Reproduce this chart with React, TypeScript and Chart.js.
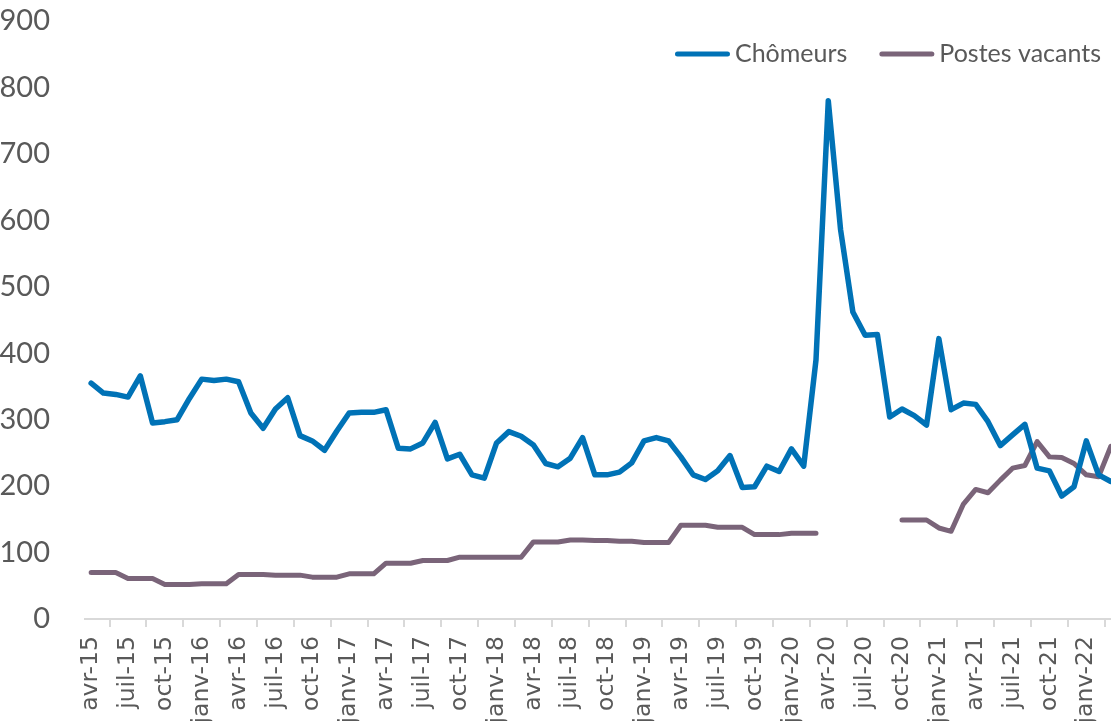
import React, { useEffect, useRef } from "react";
import { Chart, registerables } from "chart.js";

Chart.register(...registerables);

// Monthly categories, avr-15 .. mars-22
const months: string[] = [
  "avr-15", "mai-15", "juin-15", "juil-15", "août-15", "sept-15", "oct-15", "nov-15", "déc-15", "janv-16", "févr-16", "mars-16",
  "avr-16", "mai-16", "juin-16", "juil-16", "août-16", "sept-16", "oct-16", "nov-16", "déc-16", "janv-17", "févr-17", "mars-17",
  "avr-17", "mai-17", "juin-17", "juil-17", "août-17", "sept-17", "oct-17", "nov-17", "déc-17", "janv-18", "févr-18", "mars-18",
  "avr-18", "mai-18", "juin-18", "juil-18", "août-18", "sept-18", "oct-18", "nov-18", "déc-18", "janv-19", "févr-19", "mars-19",
  "avr-19", "mai-19", "juin-19", "juil-19", "août-19", "sept-19", "oct-19", "nov-19", "déc-19", "janv-20", "févr-20", "mars-20",
  "avr-20", "mai-20", "juin-20", "juil-20", "août-20", "sept-20", "oct-20", "nov-20", "déc-20", "janv-21", "févr-21", "mars-21",
  "avr-21", "mai-21", "juin-21", "juil-21", "août-21", "sept-21", "oct-21", "nov-21", "déc-21", "janv-22", "févr-22", "mars-22",
];

const chomeurs: number[] = [
  355, 340, 338, 334, 366, 295, 297, 300, 332, 361, 359, 361,
  357, 310, 287, 316, 333, 276, 268, 254, 283, 310, 311, 311,
  315, 257, 256, 265, 296, 241, 248, 217, 212, 265, 282, 275,
  262, 234, 229, 242, 273, 217, 217, 221, 235, 268, 273, 268,
  244, 217, 210, 223, 246, 198, 199, 230, 222, 256, 230, 390,
  780, 586, 462, 427, 428, 304, 316, 306, 292, 422, 315, 325,
  323, 297, 261, 277, 293, 227, 223, 185, 199, 268, 217, 207,
];

const postesVacants: (number | null)[] = [
  70, 70, 70, 61, 61, 61, 52, 52, 52, 53, 53, 53,
  67, 67, 67, 66, 66, 66, 63, 63, 63, 68, 68, 68,
  84, 84, 84, 88, 88, 88, 93, 93, 93, 93, 93, 93,
  116, 116, 116, 119, 119, 118, 118, 117, 117, 115, 115, 115,
  141, 141, 141, 138, 138, 138, 127, 127, 127, 129, 129, 129,
  null, null, null, null, null, null, 149, 149, 149, 137, 132, 173,
  195, 190, 209, 227, 231, 267, 244, 243, 234, 217, 214, 260,
];

const seriesNames = ["Chômeurs", "Postes vacants"];
const seriesColors = ["#0072b6", "#7a6479"];

const TEXT = "#595959";
const AXIS = "#d9d9d9";

// Legend drawn in the top-right corner inside the plot area
const cornerLegend = {
  id: "cornerLegend",
  afterDraw(chart: any) {
    const { ctx, chartArea } = chart;
    const lineLen = 55;
    const gapText = 5;
    const gapItem = 32;
    ctx.save();
    ctx.font = "25px Lato";
    ctx.textBaseline = "middle";
    const items = chart.data.datasets.map((ds: any) => ({
      label: ds.label,
      color: ds.borderColor,
      w: ctx.measureText(ds.label).width,
    }));
    const total =
      items.reduce((s: number, it: any) => s + lineLen + gapText + it.w, 0) +
      gapItem * (items.length - 1);
    let x = chartArea.right - 16 - total;
    const y = chartArea.top + 33;
    for (const it of items) {
      ctx.strokeStyle = it.color;
      ctx.lineWidth = 5;
      ctx.lineCap = "round";
      ctx.beginPath();
      ctx.moveTo(x + 2.5, y);
      ctx.lineTo(x + lineLen - 2.5, y);
      ctx.stroke();
      x += lineLen + gapText;
      ctx.fillStyle = TEXT;
      ctx.fillText(it.label, x, y);
      x += it.w + gapItem;
    }
    ctx.restore();
  },
};

export default function App() {
  const canvasRef = useRef<HTMLCanvasElement | null>(null);

  useEffect(() => {
    if (!canvasRef.current) return;
    const chart = new Chart(canvasRef.current, {
      type: "line",
      data: {
        labels: months,
        datasets: [
          {
            label: seriesNames[0],
            data: chomeurs,
            borderColor: seriesColors[0],
            backgroundColor: seriesColors[0],
            borderWidth: 5.5,
            pointRadius: 0,
            tension: 0,
            borderJoinStyle: "round",
            borderCapStyle: "round",
          },
          {
            label: seriesNames[1],
            data: postesVacants,
            borderColor: seriesColors[1],
            backgroundColor: seriesColors[1],
            borderWidth: 5,
            pointRadius: 0,
            tension: 0,
            spanGaps: false,
            borderJoinStyle: "round",
            borderCapStyle: "round",
          },
        ],
      },
      options: {
        animation: false,
        responsive: true,
        maintainAspectRatio: false,
        layout: { padding: { top: 21, right: 0, left: 0, bottom: 0 } },
        plugins: {
          legend: { display: false },
          tooltip: { enabled: false },
        },
        scales: {
          x: {
            offset: true,
            afterFit: (scale: any) => {
              scale.height = 102;
              scale.paddingLeft = 0;
              scale.paddingRight = 0;
            },
            grid: {
              display: true,
              offset: true,
              drawOnChartArea: false,
              drawTicks: true,
              tickLength: 8,
              color: AXIS,
              lineWidth: 2,
            },
            border: { display: true, color: AXIS, width: 2 },
            ticks: {
              autoSkip: false,
              maxRotation: 90,
              minRotation: 90,
              padding: 9,
              color: TEXT,
              font: { family: "DejaVu Sans", size: 23.5 },
              callback: (_v: any, i: number) => (i % 3 === 0 ? months[i] : null),
            },
          },
          y: {
            min: 0,
            max: 900,
            afterFit: (scale: any) => {
              scale.width = 85;
              scale.paddingTop = 4;
            },
            grid: { display: false },
            border: { display: false },
            ticks: {
              stepSize: 100,
              padding: 27,
              color: TEXT,
              font: { family: "Lato", size: 29 },
            },
          },
        },
      },
      plugins: [cornerLegend],
    });
    return () => chart.destroy();
  }, []);

  return (
    <div
      style={{
        position: "fixed",
        left: 0,
        top: 0,
        width: 1111,
        height: 721,
        overflow: "hidden",
        background: "#ffffff",
      }}
    >
      <div style={{ position: "relative", width: 1117, height: 721 }}>
        <canvas ref={canvasRef} />
      </div>
    </div>
  );
}
